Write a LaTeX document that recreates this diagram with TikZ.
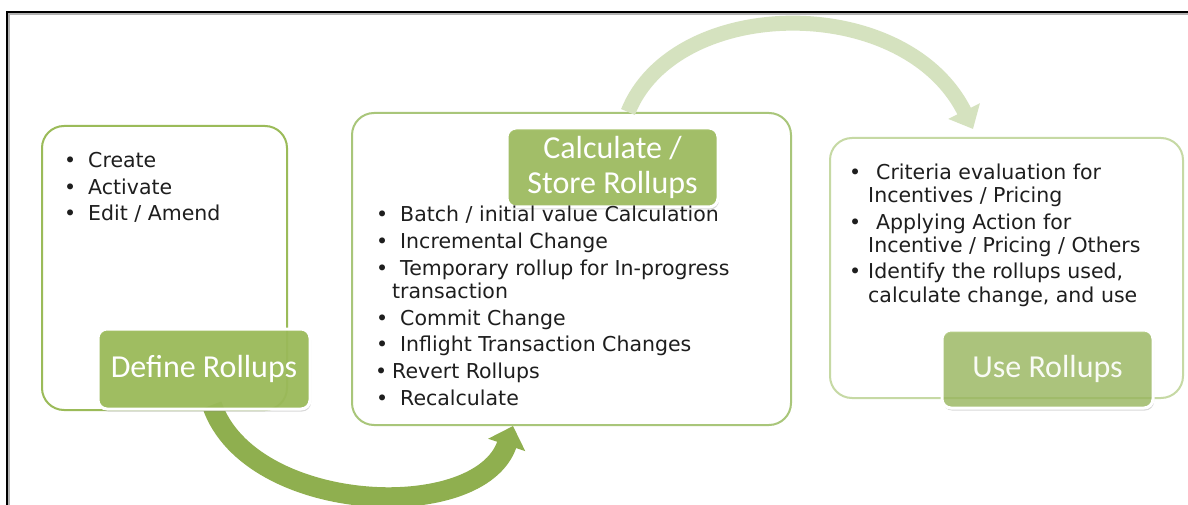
\documentclass[tikz,border=0pt]{standalone}
\usepackage{fontspec}
\setmainfont{DejaVu Sans}
\newfontfamily\labfont{Carlito}
\usetikzlibrary{arrows.meta,shadows}
\definecolor{gA}{HTML}{9BBB59}
\definecolor{gArrowA}{HTML}{8FAF4F}
\definecolor{gArrowB}{HTML}{D5E2BF}
\definecolor{gBoxB}{HTML}{A9C67A}
\definecolor{gBoxC}{HTML}{C6D9A4}
\definecolor{txt}{HTML}{1E1E1E}
\newcommand\bl[1]{\llap{\textbullet\hspace{#1}}}
\begin{document}
\begin{tikzpicture}[x=1pt,y=-1pt,
  box/.style={draw, line width=2pt, fill=white, rounded corners=22pt, inner sep=0pt},
  lab/.style={draw=white, line width=3pt, rounded corners=9pt, inner sep=0pt,
    text=white, align=center, font=\labfont\fontsize{32}{35}\selectfont,
    drop shadow={opacity=0.3, shadow xshift=1pt, shadow yshift=-2.5pt}},
  li/.style={anchor=base west, inner sep=0pt, text=txt, font=\fontsize{20.5}{24}\selectfont},
  flow/.style={line width=#1, line cap=butt}
]
\useasboundingbox (0,0) rectangle (1188,505);
\fill[white] (0,0) rectangle (1188,505);
% frame
\draw[gray!60, line width=2pt] (9,505) -- (9,14) -- (1188,14);
\draw[black, line width=2pt] (7,505) -- (7,12) -- (1188,12);

% content boxes
\node[box, draw=gA, minimum width=245pt, minimum height=284pt] (b1) at (164.5,268) {};
\node[box, draw=gBoxB, minimum width=439pt, minimum height=312pt] (b2) at (571.5,269) {};
\node[box, draw=gBoxC, minimum width=353pt, minimum height=260pt] (b3) at (1006.5,268) {};

% curved arrows
\coordinate (a1e) at (513,426);
\coordinate (a2e) at (973,129);
\draw[flow=20pt, gArrowA, -{Triangle[width=38pt,length=20pt]}]
  (212,405) .. controls (250,515) and (480,525) .. (a1e);

% labels
\node[lab, fill=gA, fill opacity=0.93, text opacity=1, minimum width=212pt, minimum height=80pt] (l1) at (204,369) {Define Rollups};

\draw[flow=15pt, gArrowB, -{Triangle[width=34pt,length=20pt]}]
  ([xshift=16pt]b2.north -| 612,0) .. controls (675,-5) and (905,-8) .. (a2e);
\node[lab, fill=gA, fill opacity=0.88, text opacity=1, minimum width=211pt, minimum height=79pt] (l2) at (612.5,167.5) {Calculate /\\Store Rollups};
\node[lab, fill=gA, fill opacity=0.72, text opacity=1, minimum width=211pt, minimum height=78pt, text=white!94!gA] (l3) at (1047.5,369) {Use Rollups};

% box 1 text
\node[li] (t11) at (88,168) {\bl{12pt}Create};
\node[li] (t12) at (88,194.5) {\bl{12pt}Activate};
\node[li] (t13) at (88,221) {\bl{12pt}Edit / Amend};

% box 2 text
\node[li] (t21) at (400,222) {\bl{12pt}Batch / initial value Calculation};
\node[li] (t22) at (400,248.5) {\bl{12pt}Incremental Change};
\node[li] (t23) at (400,275) {\bl{12pt}Temporary rollup for In-progress};
\node[li] (t24) at (392,298) {transaction};
\node[li] (t25) at (400,325) {\bl{12pt}Commit Change};
\node[li] (t26) at (400,351.5) {\bl{12pt}Inflight Transaction Changes};
\node[li] (t27) at (392,378) {\bl{5pt}Revert Rollups};
\node[li] (t28) at (400,405) {\bl{12pt}Recalculate};

% box 3 text
\node[li] (t31) at (876,180) {\bl{15pt}Criteria evaluation for};
\node[li] (t32) at (868,203) {Incentives / Pricing};
\node[li] (t33) at (876,229.5) {\bl{15pt}Applying Action for};
\node[li] (t34) at (868,252.5) {Incentive / Pricing / Others};
\node[li] (t35) at (868,278.5) {\bl{7pt}Identify the rollups used,};
\node[li] (t36) at (868,302) {calculate change, and use};
\end{tikzpicture}
\end{document}
